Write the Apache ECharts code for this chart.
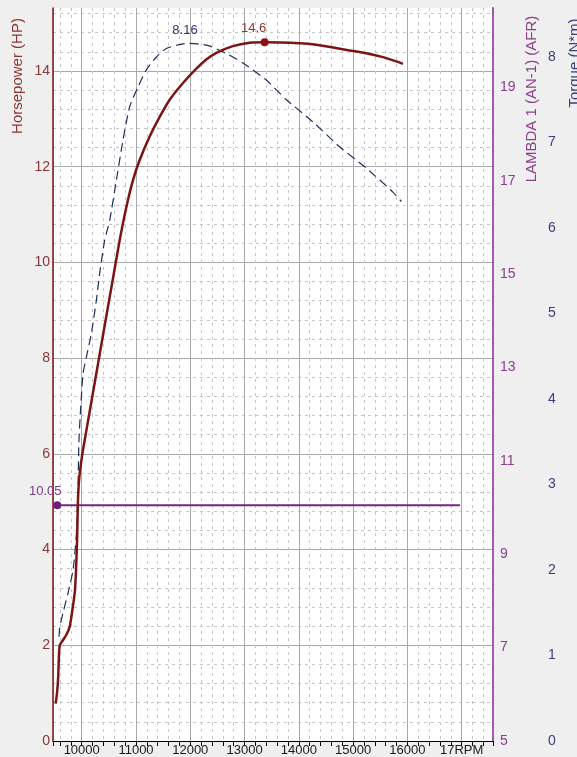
<!DOCTYPE html>
<html><head><meta charset="utf-8">
<script src="https://cdn.jsdelivr.net/npm/echarts@6/dist/echarts.min.js"></script>
<style>html,body{margin:0;padding:0;background:#efefef}#c{width:577px;height:757px}</style>
</head><body><div id="c"></div>
<script>
// ---- data ----
const hpRpm = [9520, 9545, 9565, 9578, 9595, 9650, 9717, 9779, 9828, 9871, 9890, 9902, 9915, 9930, 9955, 10012, 10100, 10200, 10300, 10400, 10500, 10600, 10700, 10823, 10945, 11068, 11252, 11436, 11621, 11866, 12112, 12296, 12481, 12786, 13094, 13370, 14015, 14322, 14628, 14936, 15243, 15549, 15796, 15917];
const hpValues = [0.78, 1.0, 1.3, 1.7, 2.0, 2.1, 2.22, 2.39, 2.74, 3.09, 3.43, 3.78, 4.2, 5.0, 5.5, 6.0, 6.58, 7.23, 7.88, 8.53, 9.18, 9.82, 10.47, 11.16, 11.72, 12.14, 12.63, 13.04, 13.4, 13.75, 14.05, 14.24, 14.38, 14.52, 14.59, 14.6, 14.58, 14.55, 14.49, 14.43, 14.37, 14.29, 14.2, 14.15];
const torqueRpm = [9582, 9595, 9656, 9748, 9840, 9900, 9930, 9948, 9982, 10025, 10086, 10179, 10271, 10331, 10424, 10516, 10639, 10761, 10884, 11037, 11191, 11375, 11560, 11760, 11940, 12173, 12357, 12665, 12971, 13401, 13770, 14260, 14751, 15243, 15733, 15888];
const torqueValues = [1.22, 1.33, 1.5, 1.73, 2.0, 2.4, 2.9, 3.5, 3.91, 4.3, 4.49, 4.77, 5.16, 5.47, 5.86, 6.09, 6.56, 7.03, 7.42, 7.65, 7.85, 8.0, 8.1, 8.14, 8.16, 8.15, 8.13, 8.04, 7.93, 7.73, 7.5, 7.24, 6.95, 6.7, 6.42, 6.31];
const afrRpm = [9550, 16968];
const afrValues = [10.05, 10.05];
const hpPeak = [13370, 14.6];
const torquePeak = [11940, 8.16];
const afrMarker = [9550, 10.05];
const xTickLabels = {10000:'10000', 11000:'11000', 12000:'12000', 13000:'13000', 14000:'14000', 15000:'15000', 16000:'16000', 17000:'17RPM'};
const hpTickLabels = [0, 2, 4, 6, 8, 10, 12, 14];
const afrTickLabels = [5, 7, 9, 11, 13, 15, 17, 19];
const torqueTickLabels = [0, 1, 2, 3, 4, 5, 6, 7, 8];

const zip = (a, b) => a.map((v, i) => [v, b[i]]);
const FONT = 'Liberation Sans, Arial, sans-serif';
const chart = echarts.init(document.getElementById('c'), null, {renderer: 'canvas'});
const majorGrid = {color: '#a8a8a8', width: 1};
const minorGrid = {color: '#c6c6c6', width: 1, type: [3, 4]};

chart.setOption({
  animation: false,
  backgroundColor: '#efefef',
  textStyle: {fontFamily: FONT},
  grid: {left: 53, right: 84, top: 8, bottom: 16, show: true, backgroundColor: '#ffffff', borderWidth: 0},
  xAxis: {
    type: 'value', min: 9471, max: 17577, splitNumber: 8,
    axisLine: {show: true, onZero: false, lineStyle: {color: '#000', width: 1}},
    axisTick: {show: true, length: 5, inside: false, lineStyle: {color: '#000'}},
    minorTick: {show: true, splitNumber: 5, length: 5, lineStyle: {color: '#000'}},
    splitLine: {show: true, lineStyle: majorGrid},
    minorSplitLine: {show: true, lineStyle: minorGrid},
    axisLabel: {color: '#1a1a1a', fontSize: 13, fontFamily: FONT, margin: 3,
      showMinLabel: false, showMaxLabel: false,
      formatter: v => xTickLabels[Math.round(v)] !== undefined && Math.abs(v - Math.round(v)) < 1e-6 ? xTickLabels[Math.round(v)] : ''}
  },
  yAxis: [
    {
      type: 'value', position: 'left', min: 0, max: 15.316, interval: 2,
      axisLine: {show: true, onZero: false, lineStyle: {color: '#7a1a1a', width: 1.5}},
      axisTick: {show: false},
      minorTick: {show: false, splitNumber: 5},
      splitLine: {show: true, showMaxLine: false, lineStyle: majorGrid},
      minorSplitLine: {show: true, lineStyle: minorGrid},
      axisLabel: {color: '#8b3535', fontSize: 14, fontFamily: FONT, margin: 3,
        formatter: v => hpTickLabels.indexOf(v) >= 0 ? String(v) : ''}
    },
    {
      type: 'value', position: 'right', min: 5, max: 20.7, interval: 2,
      axisLine: {show: true, onZero: false, lineStyle: {color: '#a05aae', width: 2}},
      axisTick: {show: false},
      splitLine: {show: false},
      axisLabel: {color: '#8a3f8a', fontSize: 14, fontFamily: FONT, margin: 7,
        formatter: v => afrTickLabels.indexOf(v) >= 0 ? String(v) : ''}
    },
    {
      type: 'value', position: 'right', offset: 52, min: 0, max: 8.573, interval: 1,
      axisLine: {show: false},
      axisTick: {show: false},
      splitLine: {show: false},
      axisLabel: {color: '#3a3f7a', fontSize: 14, fontFamily: FONT, margin: 3,
        formatter: v => torqueTickLabels.indexOf(v) >= 0 ? String(v) : ''}
    }
  ],
  series: [
    {
      name: 'LAMBDA 1 (AN-1) (AFR)', type: 'line', yAxisIndex: 1,
      data: zip(afrRpm, afrValues), symbol: 'none',
      lineStyle: {color: '#74267f', width: 2}, itemStyle: {color: '#74267f'},
      markPoint: {
        symbol: 'circle', symbolSize: 8, itemStyle: {color: '#6a1f78'},
        label: {show: true, position: 'top', distance: 3, offset: [-12, 0], color: '#7a3a8a', fontSize: 13, fontFamily: FONT, formatter: p => p.value.toFixed(2)},
        data: [{coord: afrMarker, value: afrMarker[1]}]
      }
    },
    {
      name: 'Torque (N*m)', type: 'line', yAxisIndex: 2,
      data: zip(torqueRpm, torqueValues), symbol: 'none', smooth: 0.2,
      lineStyle: {color: '#1f2d5c', width: 1.2, type: [9, 5]}, itemStyle: {color: '#1f2d5c'},
      markPoint: {
        symbol: 'circle', symbolSize: 1, itemStyle: {color: 'rgba(0,0,0,0)'},
        label: {show: true, position: 'top', distance: 6, offset: [-2, 0], color: '#2e3470', fontSize: 13, fontFamily: FONT, formatter: p => p.value.toFixed(2)},
        data: [{coord: torquePeak, value: torquePeak[1]}]
      }
    },
    {
      name: 'Horsepower (HP)', type: 'line', yAxisIndex: 0,
      data: zip(hpRpm, hpValues), symbol: 'none', smooth: 0.2,
      lineStyle: {color: '#7b1515', width: 2.5}, itemStyle: {color: '#7b1515'},
      markPoint: {
        symbol: 'circle', symbolSize: 8, itemStyle: {color: '#8a1414'},
        label: {show: true, position: 'top', distance: 3, offset: [-11, 0], color: '#8b3535', fontSize: 13, fontFamily: FONT, formatter: p => p.value.toFixed(1)},
        data: [{coord: hpPeak, value: hpPeak[1]}]
      }
    }
  ],
  graphic: [
    {type: 'text', x: 18, y: 76, rotation: Math.PI / 2,
      style: {text: 'Horsepower (HP)', fill: '#8b3535', font: '15px ' + FONT, textAlign: 'center', textVerticalAlign: 'middle'}},
    {type: 'text', x: 532, y: 99, rotation: Math.PI / 2,
      style: {text: 'LAMBDA 1 (AN-1) (AFR)', fill: '#8a3f8a', font: '15px ' + FONT, textAlign: 'center', textVerticalAlign: 'middle'}},
    {type: 'text', x: 575, y: 63, rotation: Math.PI / 2,
      style: {text: 'Torque (N*m)', fill: '#3a3f7a', font: '15px ' + FONT, textAlign: 'center', textVerticalAlign: 'middle'}}
  ]
});
</script></body></html>
